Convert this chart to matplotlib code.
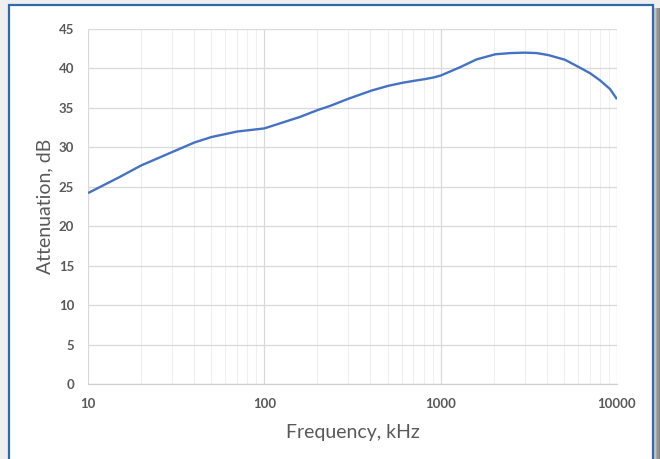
"""Attenuation vs frequency, Excel-style smoothed line on a log axis."""

import matplotlib

matplotlib.use("Agg")

import matplotlib.pyplot as plt
from matplotlib.patches import Rectangle
from matplotlib.ticker import FixedLocator, LogLocator, NullFormatter

# values
freq_khz = [10, 15, 20, 30, 40, 50, 70, 100, 159, 202, 236, 303, 406, 505,
            613, 715, 815, 908, 1000, 1287, 1600, 2045, 2500, 3000, 3500,
            4070, 5070, 6040, 7030, 8000, 9120, 10000]
atten_db = [24.2, 26.2, 27.7, 29.4, 30.6, 31.3, 32.0, 32.4, 33.85, 34.75,
            35.25, 36.2, 37.2, 37.8, 38.2, 38.45, 38.65, 38.85, 39.1, 40.15,
            41.15, 41.8, 41.95, 42.0, 41.95, 41.7, 41.1, 40.2, 39.4, 38.5,
            37.4, 36.1]
x_ticks = [10, 100, 1000, 10000]
x_tick_labels = ["10", "100", "1000", "10000"]
y_ticks = [0, 5, 10, 15, 20, 25, 30, 35, 40, 45]

W, H = 660, 459
TEXT = "#595959"
LINE = "#4472C4"
FONT = ["Lato", "DejaVu Sans"]

fig = plt.figure(figsize=(W / 100, H / 100), dpi=100, facecolor="#efefef")


def px(x, y, w, h):
    """Pixel box (top-left origin) to figure fraction."""
    return (x / W, 1 - (y + h) / H), w / W, h / H


# chart frame with a shadow on the right
for i, c in enumerate(["#c4c4c4", "#a8a8a8", "#929292", "#868686"]):
    xy, w, h = px(654 + i * 1.5, 8, 1.6, H)
    fig.patches.append(Rectangle(xy, w, h, transform=fig.transFigure,
                                 facecolor=c, edgecolor="none", zorder=0))
xy, w, h = px(9, 4.5, 643.5, H)
fig.patches.append(Rectangle(xy, w, h, transform=fig.transFigure,
                             facecolor="white", edgecolor="#2e6aad",
                             linewidth=1.6, zorder=1))

ax = fig.add_axes([88 / W, 1 - 384 / H, (617 - 88) / W, (384 - 29) / H])
ax.set_zorder(5)
ax.set_facecolor("none")
ax.set_xscale("log")
ax.set_xlim(10, 10000)
ax.set_ylim(0, 45)

ax.plot(freq_khz, atten_db, color=LINE, linewidth=1.7,
        solid_capstyle="butt", solid_joinstyle="round", zorder=3)

ax.xaxis.set_major_locator(FixedLocator(x_ticks))
ax.xaxis.set_minor_locator(LogLocator(base=10, subs=range(2, 10)))
ax.xaxis.set_minor_formatter(NullFormatter())
ax.set_xticks(x_ticks)
ax.set_xticklabels(x_tick_labels)
ax.set_yticks(y_ticks)

ax.grid(which="major", color="#d9d9d9", linewidth=0.9)
ax.grid(which="minor", axis="x", color="#efefef", linewidth=0.8)
ax.set_axisbelow(True)

for side in ["top", "right", "left"]:
    ax.spines[side].set_visible(False)
ax.spines["bottom"].set_color("#d0d0d0")
ax.spines["bottom"].set_linewidth(0.9)

ax.tick_params(which="both", length=0)
ax.tick_params(axis="x", pad=10)
ax.tick_params(axis="y", pad=10)
for lab in ax.get_xticklabels() + ax.get_yticklabels():
    lab.set_family(FONT)
    lab.set_fontweight("bold")
    lab.set_fontsize(9.5)
    lab.set_color(TEXT)

ax.set_xlabel("Frequency, kHz", family=FONT, fontsize=14, color=TEXT,
              labelpad=10)
ax.set_ylabel("Attenuation, dB", family=FONT, fontsize=14, color=TEXT,
              labelpad=4)

fig.savefig("out.png", dpi=100, facecolor=fig.get_facecolor())
